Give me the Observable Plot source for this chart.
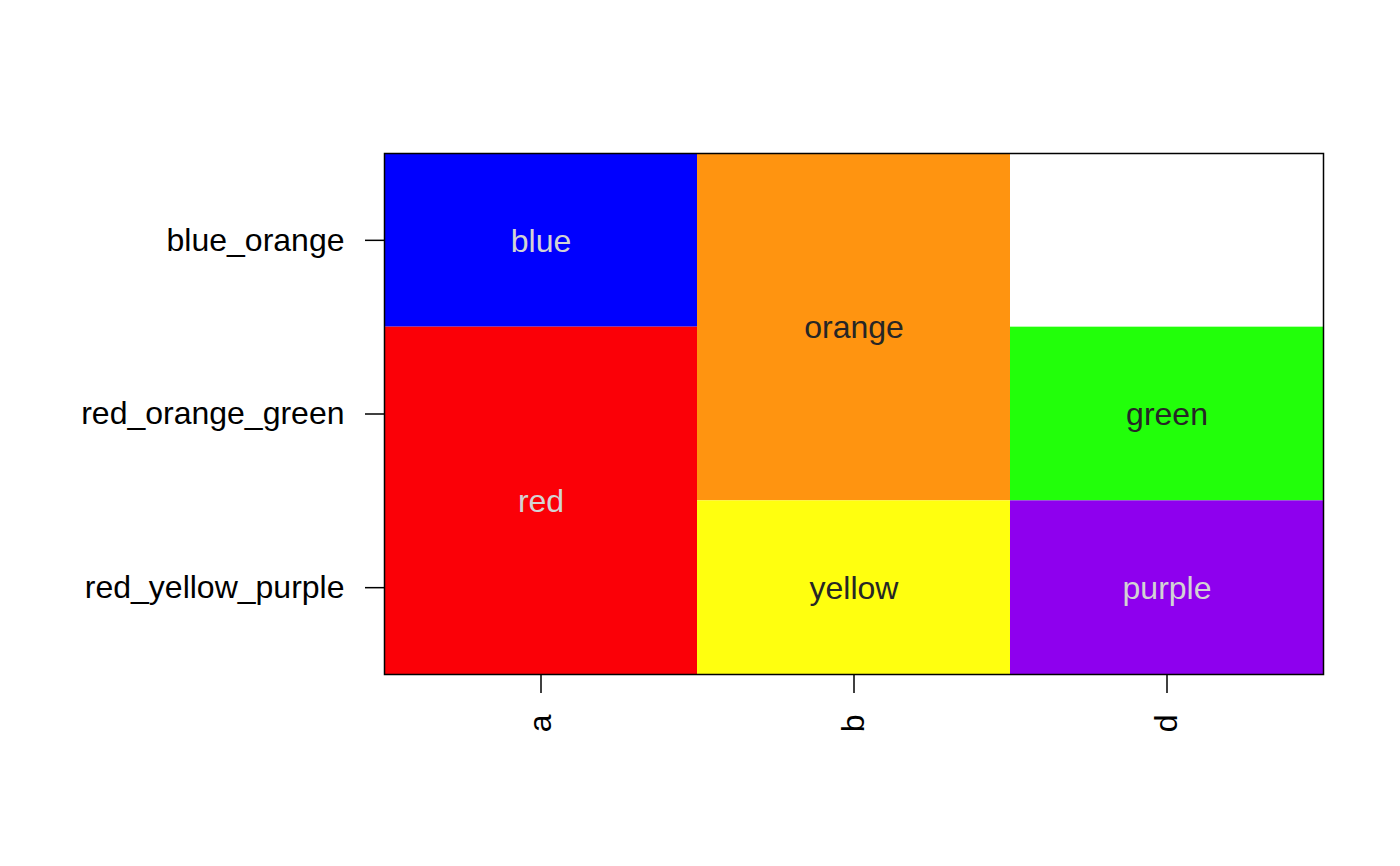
<!DOCTYPE html>
<html>
<head>
<meta charset="utf-8">
<script src="https://cdn.jsdelivr.net/npm/d3@7"></script>
<script src="https://cdn.jsdelivr.net/npm/@observablehq/plot@0.6"></script>
<style>
  body { margin: 0; background: white; }
  #chart { width: 1400px; height: 866px; }
</style>
</head>
<body>
<div id="chart"></div>
<script>
// categorias de columnas y filas
const cols = ['a', 'b', 'd']
const rows = ['blue_orange', 'red_orange_green', 'red_yellow_purple']

// celdas: columna, fila inicial, fila final, etiqueta, relleno, color de texto
const cellCol = ['a', 'a', 'b', 'b', 'd', 'd']
const cellFrom = ['blue_orange', 'red_orange_green', 'blue_orange', 'red_yellow_purple', 'red_orange_green', 'red_yellow_purple']
const cellTo = ['blue_orange', 'red_yellow_purple', 'red_orange_green', 'red_yellow_purple', 'red_orange_green', 'red_yellow_purple']
const cellLabel = ['blue', 'red', 'orange', 'yellow', 'green', 'purple']
const cellFill = ['#0000ff', '#fb0007', '#ff9410', '#ffff0f', '#22ff0a', '#8e00ee']
const cellInk = ['#d3d3d3', '#d3d3d3', '#262626', '#262626', '#262626', '#d3d3d3']

const cells = cellLabel.map((label, i) => ({
  col: cellCol[i], from: cellFrom[i], to: cellTo[i],
  label, fill: cellFill[i], ink: cellInk[i]
}))

const tickPos = cols.map((_, i) => i + 0.5)

let chart = Plot.plot({
  width: 1400,
  height: 866,
  marginLeft: 384,
  marginRight: 77,
  marginTop: 153,
  marginBottom: 192,
  style: { fontFamily: '"Liberation Sans", Arial, sans-serif', color: 'black', background: 'white' },
  x: { type: 'linear', domain: [0, cols.length] },
  y: { type: 'linear', domain: [0, rows.length], reverse: true },
  color: { type: 'identity' },
  marks: [
    Plot.rect(cells, {
      x1: d => cols.indexOf(d.col),
      x2: d => cols.indexOf(d.col) + 1,
      y1: d => rows.indexOf(d.from),
      y2: d => rows.indexOf(d.to) + 1,
      fill: d => d.fill,
    }),
    Plot.text(cells, {
      x: d => cols.indexOf(d.col) + 0.5,
      y: d => (rows.indexOf(d.from) + rows.indexOf(d.to) + 1) / 2,
      text: 'label',
      fill: d => d.ink,
      fontSize: 32,
      dy: 1,
    }),
    Plot.frame({ stroke: 'black', strokeWidth: 1.5 }),
    Plot.axisY({
      ticks: tickPos,
      tickFormat: v => rows[Math.floor(v)],
      tickSize: 19,
      tickPadding: 21,
      fontSize: 32,
      stroke: 'black',
      strokeWidth: 1.5,
      strokeOpacity: 1,
      label: null,
    }),
    Plot.axisX({
      ticks: tickPos,
      tickFormat: v => cols[Math.floor(v)],
      tickSize: 19,
      tickPadding: 21,
      tickRotate: -90,
      fontSize: 32,
      stroke: 'black',
      strokeWidth: 1.5,
      strokeOpacity: 1,
      label: null,
    }),
  ],
})

d3.select('#chart').append(() => chart)
</script>
</body>
</html>
